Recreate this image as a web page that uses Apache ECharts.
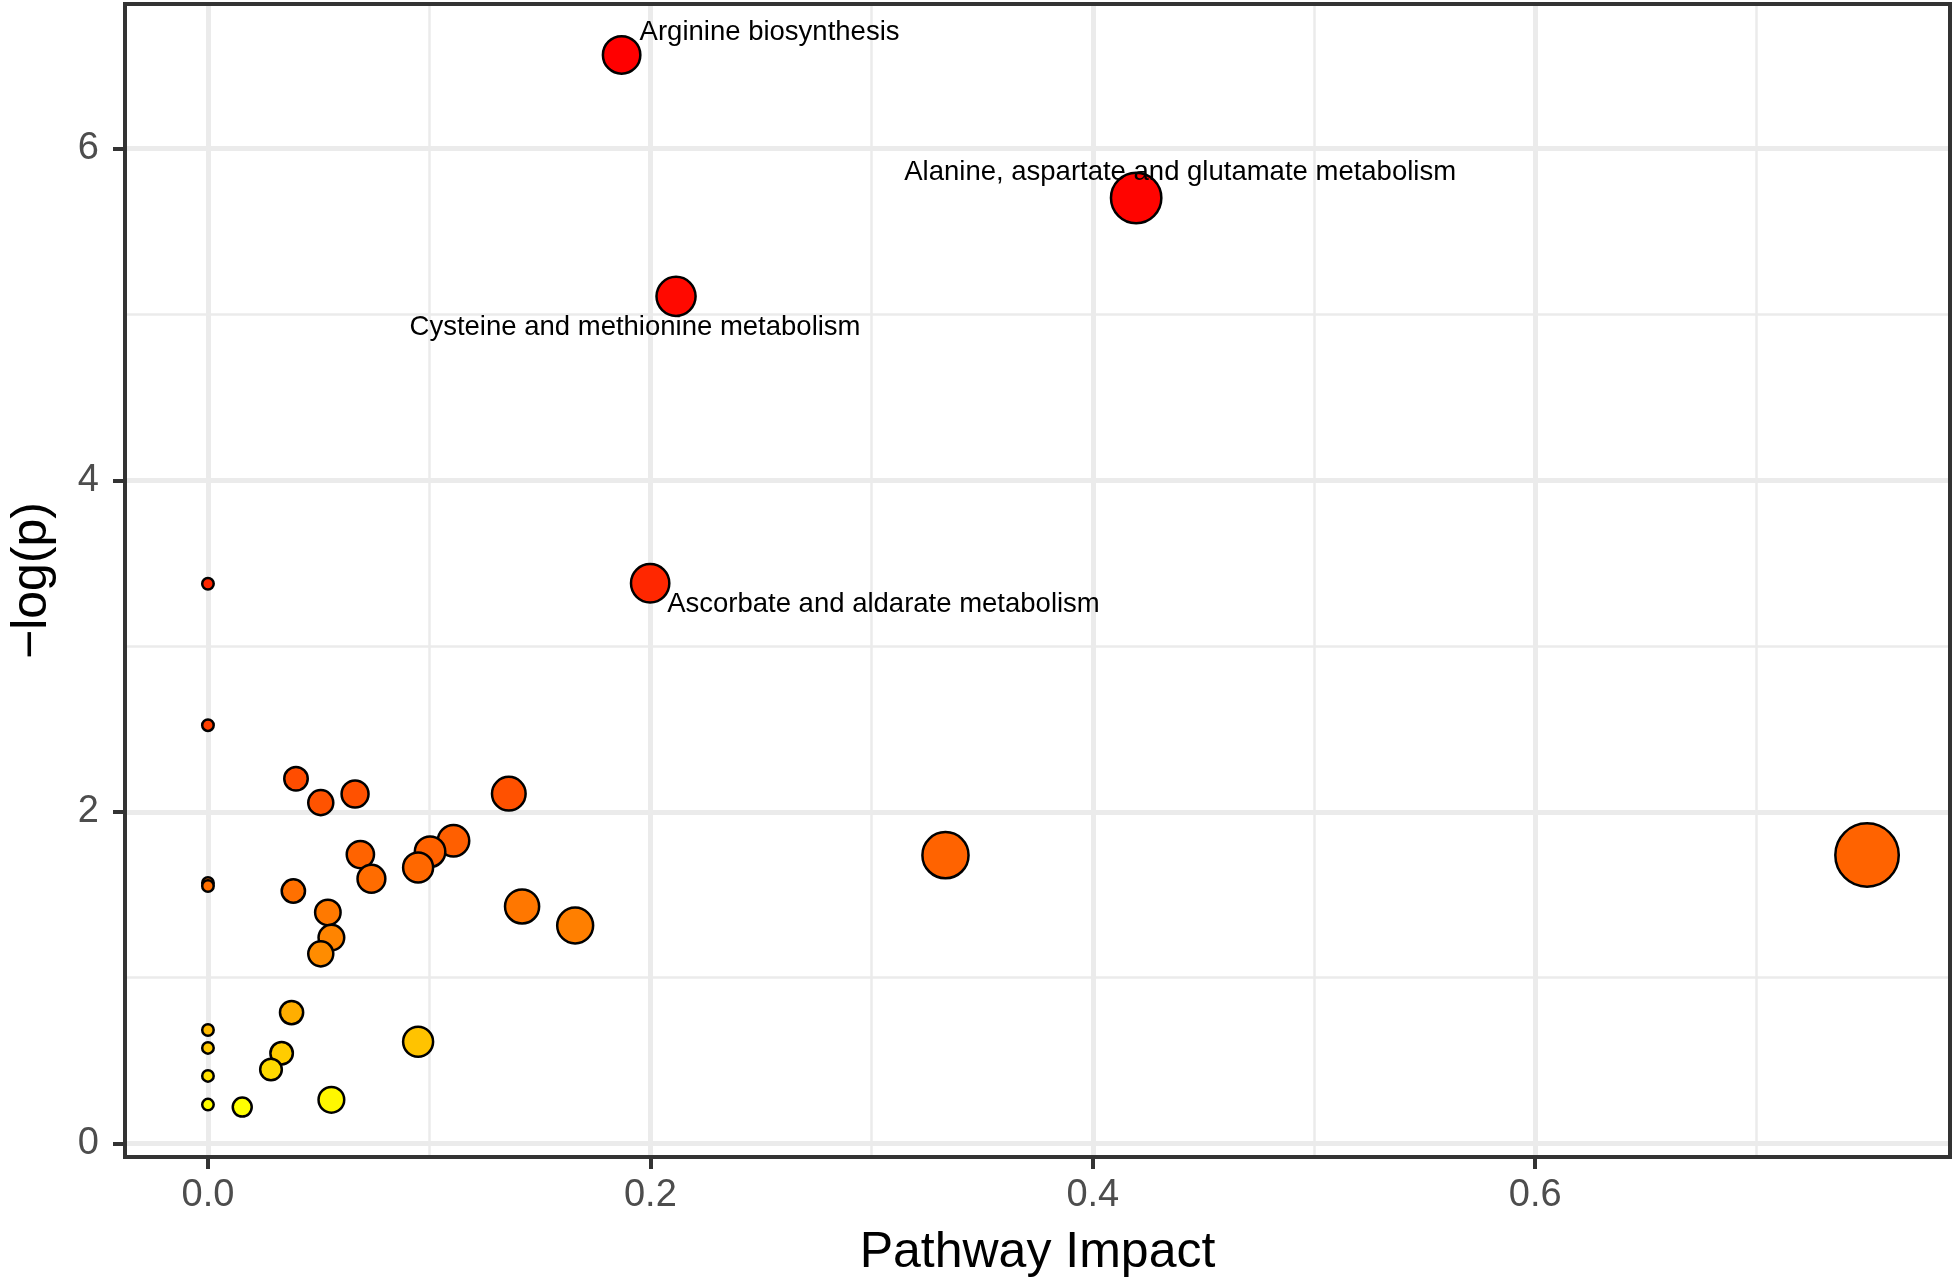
<!DOCTYPE html>
<html><head><meta charset="utf-8">
<script src="https://cdn.jsdelivr.net/npm/echarts@6/dist/echarts.min.js"></script>
<style>html,body{margin:0;padding:0;background:#fff}#c{width:1955px;height:1286px}</style>
</head><body><div id="c"></div>
<script>
// ---- data (rows in plotting order: descending -log(p)) ----
const pathwayLabels = [
  'Arginine biosynthesis',
  'Alanine, aspartate and glutamate metabolism',
  'Cysteine and methionine metabolism',
  'Ascorbate and aldarate metabolism',
  '', '', '', '', '', '', '', '', '', '', '', '', '', '', '', '', '', '', '', '', '', '', '', '', '', '', '', '', '', '', ''
];
const pathwayImpact = [
  0.187, 0.4196, 0.2116, 0.1999,
  0, 0, 0.0398, 0.136, 0.0665, 0.051, 0.111, 0.1004, 0.0689, 0.75, 0.3334,
  0.095, 0.0739, 0, 0, 0.0386, 0.142, 0.0542, 0.166, 0.0558, 0.051,
  0.0378, 0, 0.095, 0, 0.0333, 0.0285, 0, 0.0558, 0, 0.0155
];
const negLogP = [
  6.565, 5.702, 5.109, 3.379,
  3.376, 2.523, 2.200, 2.110, 2.108, 2.056, 1.826, 1.760, 1.743, 1.740, 1.739,
  1.665, 1.597, 1.572, 1.553, 1.523, 1.430, 1.394, 1.315, 1.242, 1.144,
  0.790, 0.685, 0.614, 0.577, 0.545, 0.447, 0.408, 0.264, 0.235, 0.220
];
const xTickValues = [0, 0.2, 0.4, 0.6];
const yTickValues = [0, 2, 4, 6];
const xMinorValues = [0.1, 0.3, 0.5, 0.7];
const yMinorValues = [1, 3, 5];

// ---- colour: ggplot-like gradient (Lab) on p-value, red (low p) -> yellow (high p) ----
function s2l(c){c/=255;return c<=0.04045?c/12.92:Math.pow((c+0.055)/1.055,2.4);}
function l2s(c){c=Math.max(0,Math.min(1,c));return Math.round(255*(c<=0.0031308?12.92*c:1.055*Math.pow(c,1/2.4)-0.055));}
const Xn=0.95047,Yn=1,Zn=1.08883;
function fl(t){return t>0.008856?Math.cbrt(t):7.787*t+16/116;}
function fi(t){return t>0.206893?t*t*t:(t-16/116)/7.787;}
function rgbToLab(r,g,b){
  const R=s2l(r),G=s2l(g),B=s2l(b);
  const X=0.4124564*R+0.3575761*G+0.1804375*B;
  const Y=0.2126729*R+0.7151522*G+0.0721750*B;
  const Z=0.0193339*R+0.1191920*G+0.9503041*B;
  const fx=fl(X/Xn),fy=fl(Y/Yn),fz=fl(Z/Zn);
  return [116*fy-16,500*(fx-fy),200*(fy-fz)];
}
function labToHex(L,a,b){
  const fy=(L+16)/116,fx=fy+a/500,fz=fy-b/200;
  const X=Xn*fi(fx),Y=Yn*fi(fy),Z=Zn*fi(fz);
  const R=3.2404542*X-1.5371385*Y-0.4985314*Z;
  const G=-0.9692660*X+1.8760108*Y+0.0415560*Z;
  const B=0.0556434*X-0.2040259*Y+1.0572252*Z;
  const h=v=>('0'+l2s(v).toString(16)).slice(-2);
  return '#'+h(R)+h(G)+h(B);
}
const labLow=rgbToLab(255,0,0), labHigh=rgbToLab(255,255,0);
const pVals=negLogP.map(v=>Math.exp(-v));
const pMin=Math.min(...pVals), pMax=Math.max(...pVals);
function colourFor(nlp){
  const t=(Math.exp(-nlp)-pMin)/(pMax-pMin);
  return labToHex(labLow[0]+(labHigh[0]-labLow[0])*t, labLow[1]+(labHigh[1]-labLow[1])*t, labLow[2]+(labHigh[2]-labLow[2])*t);
}

// ---- label placement (style, not data) ----
const labelPlacement = {
  'Arginine biosynthesis': {align:'left', offset:[18,-22.5]},
  'Alanine, aspartate and glutamate metabolism': {align:'center', offset:[44,-26]},
  'Cysteine and methionine metabolism': {align:'center', offset:[-41,31.5]},
  'Ascorbate and aldarate metabolism': {align:'left', offset:[17,21.5]}
};

const FONT = '"Liberation Sans", Arial, sans-serif';
const points = pathwayImpact.map((x,i)=>{
  const name = pathwayLabels[i];
  const item = {value:[x, negLogP[i]], name: name};
  if (name) {
    const pl = labelPlacement[name];
    item.label = {show:true, formatter: name, position:'inside', align: pl.align, verticalAlign:'middle',
      offset: pl.offset, color:'#000', fontSize:27.5, fontFamily: FONT};
  }
  return item;
});

const gridLine = (w)=>({color:'#EBEBEB', width:w, type:'solid'});
const markData = []
  .concat(xTickValues.map(v=>({xAxis:v, lineStyle:gridLine(5)})))
  .concat(yTickValues.map(v=>({yAxis:v, lineStyle:gridLine(5)})))
  .concat(xMinorValues.map(v=>({xAxis:v, lineStyle:gridLine(2.5)})))
  .concat(yMinorValues.map(v=>({yAxis:v, lineStyle:gridLine(2.5)})));

const chart = echarts.init(document.getElementById('c'), null, {renderer:'canvas'});
chart.setOption({
  backgroundColor:'#ffffff',
  animation:false,
  grid:{left:125, right:5, top:4, bottom:129, show:true, borderColor:'#333333', borderWidth:4,
        backgroundColor:'transparent', containLabel:false, outerBoundsMode:'none'},
  xAxis:{
    type:'value', min:-0.0375, max:0.7875,
    splitLine:{show:false},
    axisLine:{show:false, onZero:false},
    axisTick:{show:true, length:12, lineStyle:{color:'#333333', width:4}, customValues:xTickValues},
    axisLabel:{customValues:xTickValues, formatter:v=>v.toFixed(1), fontSize:38, color:'#4D4D4D', margin:20, fontFamily:FONT},
    name:'Pathway Impact', nameLocation:'middle', nameGap:71,
    nameTextStyle:{fontSize:50, color:'#000', fontFamily:FONT}
  },
  yAxis:{
    type:'value', min:-0.081, max:6.872,
    splitLine:{show:false},
    axisLine:{show:false, onZero:false},
    axisTick:{show:true, length:12, lineStyle:{color:'#333333', width:4}, customValues:yTickValues},
    axisLabel:{customValues:yTickValues, formatter:v=>String(v), fontSize:38, color:'#4D4D4D', margin:26, fontFamily:FONT},
    name:'\u2212log(p)', nameLocation:'middle', nameGap:68, nameRotate:90,
    nameTextStyle:{fontSize:50, color:'#000', fontFamily:FONT}
  },
  series:[
    {
      type:'scatter', data:[], silent:true,
      markLine:{silent:true, z:-1, symbol:['none','none'], label:{show:false}, animation:false, data:markData}
    },
    {
      type:'scatter', z:2,
      data: points,
      symbol:'circle',
      symbolSize: v=> 2*(7+30*Math.sqrt(v[0])) - 2.5,
      itemStyle:{color: p=>colourFor(p.value[1]), borderColor:'#000', borderWidth:2.5, opacity:1},
      emphasis:{disabled:true}
    }
  ]
});
</script>
</body></html>
